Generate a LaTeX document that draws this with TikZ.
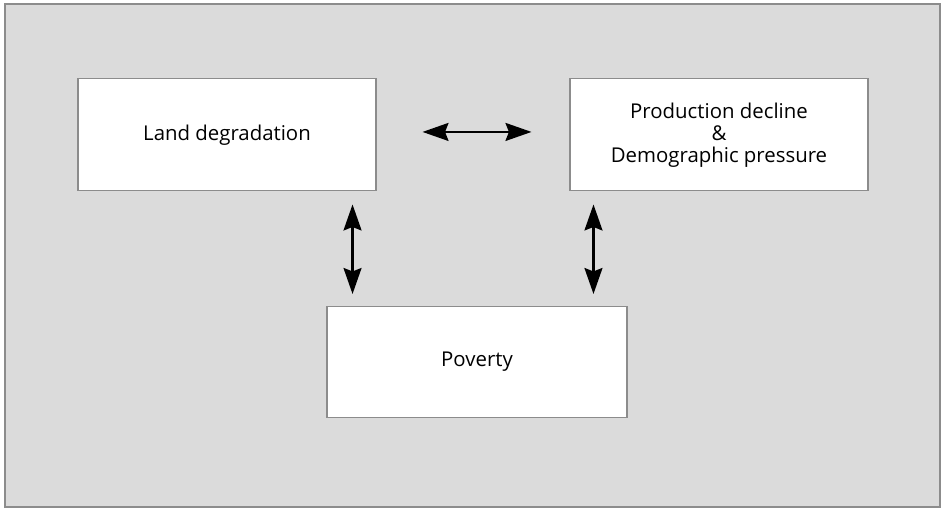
\documentclass[tikz,border=0pt]{standalone}
\usepackage{fontspec}
\setmainfont{Open Sans}
\usetikzlibrary{positioning,arrows.meta,calc}
\definecolor{panelgray}{RGB}{219,219,219}
\definecolor{framegray}{RGB}{140,140,140}
\tikzset{
  factor/.style={draw=framegray, line width=0.6pt, fill=white, minimum width=5.96cm,
    minimum height=2.24cm, align=center, font=\fontsize{11.6}{12.6}\selectfont, inner sep=0pt},
  twoway/.style={{Stealth[length=0.52cm,width=0.36cm,inset=0.07cm]}-{Stealth[length=0.52cm,width=0.36cm,inset=0.07cm]}, line width=1.2pt}
}
\begin{document}
\begin{tikzpicture}
\useasboundingbox (0,0) rectangle (18.94,-10.26);
\draw[framegray, fill=panelgray, line width=0.8pt] (0.1,-0.08) rectangle (18.8,-10.14);

\node[factor, minimum width=6cm, minimum height=2.22cm] at (9.54,-7.24) (pov) {Poverty};
\node[factor, above=2.29cm of pov, xshift=-5cm] (land) {Land degradation};
\node[factor, above=2.29cm of pov, xshift=4.84cm] (prod) {Production decline\\ \&\\ Demographic pressure};

\draw[twoway] ($(land.east)+(0.92,0.06)$) -- ($(prod.west |- land.east)+(-0.76,0.06)$);
\draw[twoway] ($(land.south east)+(-0.48,-0.26)$) -- ($(land.south east |- pov.north)+(-0.48,0.24)$);
\draw[twoway] ($(prod.south west)+(0.48,-0.26)$) -- ($(prod.south west |- pov.north)+(0.48,0.24)$);
\end{tikzpicture}
\end{document}
